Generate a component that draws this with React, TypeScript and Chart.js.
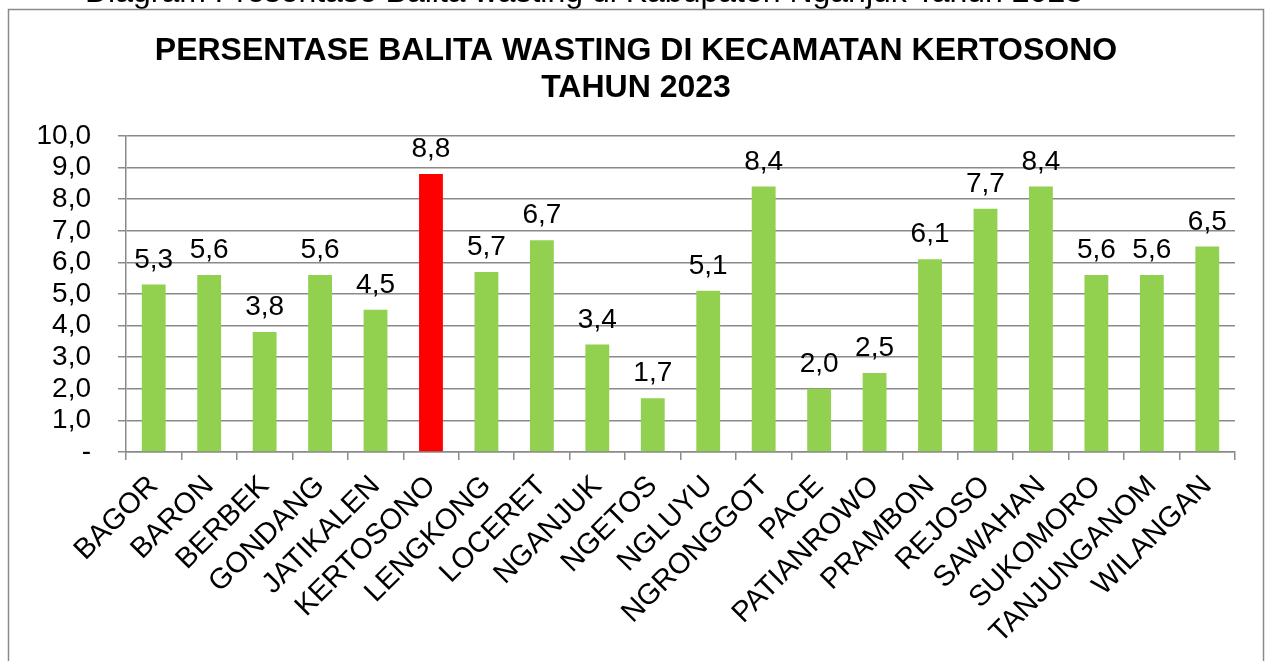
import React, { useEffect, useRef } from 'react';
import { Chart, registerables } from 'chart.js';

Chart.register(...registerables);

const categories = [
  'BAGOR', 'BARON', 'BERBEK', 'GONDANG', 'JATIKALEN', 'KERTOSONO', 'LENGKONG',
  'LOCERET', 'NGANJUK', 'NGETOS', 'NGLUYU', 'NGRONGGOT', 'PACE', 'PATIANROWO',
  'PRAMBON', 'REJOSO', 'SAWAHAN', 'SUKOMORO', 'TANJUNGANOM', 'WILANGAN',
];
const values = [5.3, 5.6, 3.8, 5.6, 4.5, 8.8, 5.7, 6.7, 3.4, 1.7, 5.1, 8.4, 2.0, 2.5, 6.1, 7.7, 8.4, 5.6, 5.6, 6.5];
const highlighted = ['KERTOSONO'];
const yTickLabels = ['-', '1,0', '2,0', '3,0', '4,0', '5,0', '6,0', '7,0', '8,0', '9,0', '10,0'];
const titleLines = ['PERSENTASE BALITA WASTING DI KECAMATAN KERTOSONO', 'TAHUN 2023'];
const caption = 'Diagram Presentase Balita wasting di Kabupaten Nganjuk Tahun 2023';

const GREEN = '#92D050';
const RED = '#FF0000';
const GRID = '#8a8a8a';
const FONT = '"Liberation Sans", Arial, sans-serif';

const fmt = (v: number) => v.toFixed(1).replace('.', ',');

const decorPlugin = {
  id: 'decor',
  beforeDraw(chart: any) {
    const ctx = chart.ctx as CanvasRenderingContext2D;
    ctx.save();
    ctx.fillStyle = '#ffffff';
    ctx.fillRect(0, 0, chart.width, chart.height);
    // caption (cut off at top)
    ctx.fillStyle = '#000';
    ctx.font = `32px ${FONT}`;
    ctx.textAlign = 'left';
    ctx.textBaseline = 'alphabetic';
    ctx.fillText(caption, 85, 2);
    // box
    ctx.strokeStyle = GRID;
    ctx.lineWidth = 1.5;
    ctx.strokeRect(8.5, 9.5, 1255, 700);
    // title
    ctx.font = `bold 32px ${FONT}`;
    ctx.textAlign = 'center';
    ctx.fillText(titleLines[0], 636, 60);
    ctx.fillText(titleLines[1], 636, 97);
    ctx.restore();
  },
  afterDatasetsDraw(chart: any) {
    const ctx = chart.ctx as CanvasRenderingContext2D;
    const meta = chart.getDatasetMeta(0);
    ctx.save();
    ctx.fillStyle = '#000';
    ctx.font = `28px ${FONT}`;
    ctx.textAlign = 'center';
    ctx.textBaseline = 'alphabetic';
    meta.data.forEach((bar: any, i: number) => {
      ctx.fillText(fmt(values[i]), bar.x, bar.y - 17);
    });
    ctx.restore();
  },
};

export default function App() {
  const ref = useRef<HTMLCanvasElement | null>(null);
  useEffect(() => {
    if (!ref.current) return;
    const chart = new Chart(ref.current, {
      type: 'bar',
      data: {
        labels: categories,
        datasets: [
          {
            data: values,
            backgroundColor: categories.map((c) => (highlighted.includes(c) ? RED : GREEN)),
            borderWidth: 0,
            barPercentage: 0.43,
            categoryPercentage: 1,
          },
        ],
      },
      options: {
        animation: false,
        responsive: false,
        maintainAspectRatio: false,
        layout: { padding: { left: 0, top: 136, right: 33, bottom: 0 } },
        plugins: {
          legend: { display: false },
          tooltip: { enabled: false },
          title: { display: false },
        },
        scales: {
          x: {
            grid: {
              display: true,
              drawOnChartArea: false,
              drawTicks: true,
              tickLength: 8,
              color: GRID,
              lineWidth: 1.5,
              offset: true,
            },
            border: { display: true, color: GRID, width: 1.5 },
            ticks: {
              color: '#000',
              font: { family: FONT, size: 29 },
              maxRotation: 45,
              minRotation: 45,
              autoSkip: false,
              padding: 9,
            },
            afterFit: (s: any) => {
              s.height = 209;
            },
          },
          y: {
            min: 0,
            max: 10,
            grid: { color: GRID, lineWidth: 1.5, tickLength: 8, drawTicks: true },
            border: { display: true, color: GRID, width: 1.5 },
            ticks: {
              stepSize: 1,
              autoSkip: false,
              color: '#000',
              font: { family: FONT, size: 28 },
              padding: 27,
              callback: (v: any) => yTickLabels[Math.round(Number(v))],
            },
            afterFit: (s: any) => {
              s.width = 126;
            },
          },
        },
      },
      plugins: [decorPlugin],
    });
    return () => chart.destroy();
  }, []);

  return (
    <div style={{ position: 'fixed', left: 0, top: 0, width: 1268, height: 661, overflow: 'hidden', background: '#fff' }}>
      <canvas ref={ref} width={1268} height={661} style={{ display: 'block', width: 1268, height: 661 }} />
    </div>
  );
}
